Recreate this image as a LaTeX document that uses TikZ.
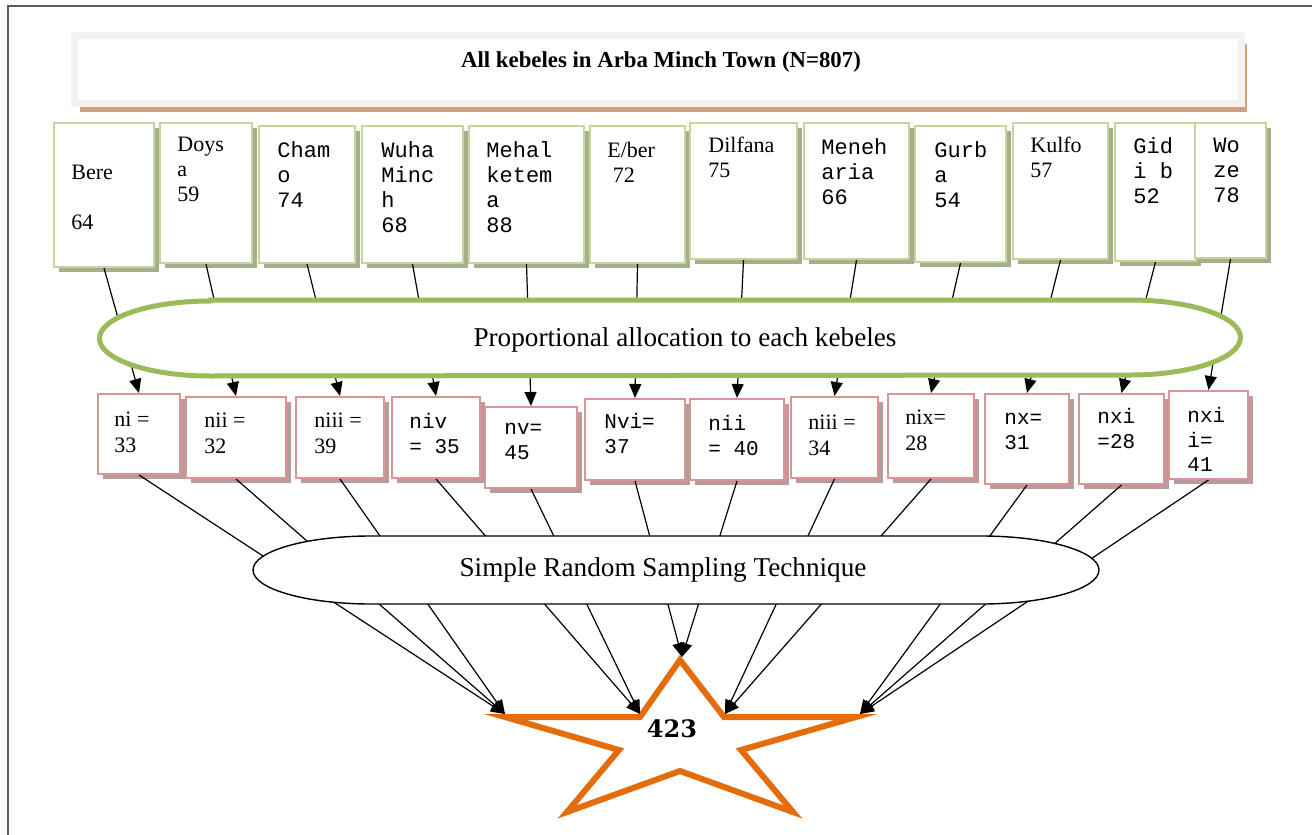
\documentclass[tikz,border=0pt]{standalone}
\usepackage{fontspec}
\setmainfont{Liberation Serif}
\setmonofont{Liberation Mono}
\newfontfamily\totalfont{DejaVu Serif}
\usetikzlibrary{arrows.meta, positioning, shadows}
\definecolor{kebeleGreen}{RGB}{195, 214, 155}
\definecolor{kebeleShade}{RGB}{166, 175, 140}
\definecolor{sampleRed}{RGB}{217, 149, 148}
\definecolor{sampleShade}{RGB}{185, 155, 155}
\definecolor{titleGray}{RGB}{242, 242, 242}
\definecolor{titleShade}{RGB}{210, 160, 125}
\definecolor{allocGreen}{RGB}{155, 187, 89}
\definecolor{totalOrange}{RGB}{228, 108, 10}
\colorlet{frame edge}{black!65}
\tikzset{
    titlebox/.style={draw=titleGray, line width=3.5pt, fill=white, drop shadow={shadow xshift=2.75pt, shadow yshift=-4.25pt, fill=titleShade, opacity=1}},
    titletext/.style={font=\fontsize{11.4}{13}\selectfont\bfseries},
    kebbox/.style={anchor=north west, draw=kebeleGreen, line width=1pt, fill=white, drop shadow={shadow xshift=2.5pt, shadow yshift=-2.5pt, fill=kebeleShade, opacity=1}},
    samplebox/.style={anchor=north west, draw=sampleRed, line width=1pt, fill=white, drop shadow={shadow xshift=2.5pt, shadow yshift=-2.5pt, fill=sampleShade, opacity=1}},
    boxtext/.style={anchor=north west, inner sep=0pt, align=left, font=\fontsize{11}{12.5}\selectfont},
    boxmono/.style={boxtext, font=\fontsize{11}{12.5}\selectfont\ttfamily},
    ntext/.style={boxtext, font=\fontsize{11}{13}\selectfont},
    nmono/.style={boxtext, font=\fontsize{10.5}{12.2}\selectfont\ttfamily},
    allocring/.style={draw=allocGreen, line width=2.5pt, fill=white},
    samplering/.style={draw=black, line width=0.7pt, fill=white},
    ringtext/.style={font=\fontsize{13.6}{16}\selectfont},
    arrowline/.style={line width=0.6pt, -{Triangle[length=7pt, width=6pt]}},
    starline/.style={draw=totalOrange, line width=3pt, fill=white, line join=miter},
    totaltext/.style={font=\fontsize{12}{14}\totalfont\bfseries},
    outerframe/.style={draw=frame edge, line width=1pt}
}

\begin{document}
\begin{tikzpicture}[x=0.5pt, y=-0.5pt]
    % Fix the size of the page
    \useasboundingbox (0,0) rectangle (1312,835);
    \draw[outerframe] (8,6) rectangle (1340,860);

    % Title box with all kebeles
    \node[titlebox, minimum width=583.5pt, minimum height=34pt] (town) at (658,69.5) {};
    \node[titletext] (townlabel) at (661,62) {All kebeles in Arba Minch Town (N=807)};

    % Kebele boxes
    \node[kebbox, minimum width=50pt, minimum height=72pt] (bere) at (53,122) {};
    \node[kebbox, minimum width=46pt, minimum height=70pt] (doysa) at (159,122) {};
    \node[kebbox, minimum width=48pt, minimum height=68.5pt] (chamo) at (258,125) {};
    \node[kebbox, minimum width=50.5pt, minimum height=68.5pt] (wuha) at (361,125) {};
    \node[kebbox, minimum width=57.5pt, minimum height=68.5pt] (mehal) at (468,125) {};
    \node[kebbox, minimum width=47.5pt, minimum height=68.5pt] (eber) at (589,125) {};
    \node[kebbox, minimum width=53.5pt, minimum height=68pt] (dilfana) at (689,122) {};
    \node[kebbox, minimum width=52.5pt, minimum height=68pt] (meneh) at (803,122) {};
    \node[kebbox, minimum width=45.5pt, minimum height=68pt] (gurba) at (914,125) {};
    \node[kebbox, minimum width=47.5pt, minimum height=68pt] (kulfo) at (1012,122) {};
    \node[kebbox, minimum width=40.5pt, minimum height=69pt] (gidib) at (1114,122) {};
    \node[kebbox, minimum width=35.5pt, minimum height=67.5pt] (woze) at (1194,122) {};

    \node[boxtext] (bereT) at (71,165) {Bere\\[12.5pt]64};
    \node[boxtext] (doysaT) at (177,137) {Doys\\a\\59};
    \node[boxmono] (chamoT) at (277,141) {Cham\\o\\74};
    \node[boxmono] (wuhaT) at (381,141) {Wuha\\Minc\\h\\68};
    \node[boxmono] (mehalT) at (486,141) {Mehal\\ketem\\a\\88};
    \node[boxtext] (eberT) at (607,142) {E/ber\\\ 72};
    \node[boxtext] (dilfanaT) at (708,137) {Dilfana\\75};
    \node[boxmono] (menehT) at (821,138) {Meneh\\aria\\66};
    \node[boxmono] (gurbaT) at (934,141) {Gurb\\a\\54};
    \node[boxtext] (kulfoT) at (1030,137) {Kulfo\\57};
    \node[boxmono] (gidibT) at (1133,137) {Gid\\i b\\52};
    \node[boxmono] (wozeT) at (1213,138) {Wo\\ze\\78};

    % Sample size boxes
    \node[samplebox, minimum width=41pt, minimum height=40pt] (ni) at (97,393) {};
    \node[samplebox, minimum width=50pt, minimum height=40.5pt] (nii) at (185,396) {};
    \node[samplebox, minimum width=44pt, minimum height=40.5pt] (niii) at (295,396) {};
    \node[samplebox, minimum width=44pt, minimum height=40.5pt] (niv) at (391,396) {};
    \node[samplebox, minimum width=46pt, minimum height=40.5pt] (nv) at (484,406) {};
    \node[samplebox, minimum width=50pt, minimum height=40.5pt] (nvi) at (584,398) {};
    \node[samplebox, minimum width=47pt, minimum height=40.5pt] (nvii) at (689,398) {};
    \node[samplebox, minimum width=43.5pt, minimum height=40.5pt] (nviii) at (790,396) {};
    \node[samplebox, minimum width=43pt, minimum height=42pt] (nix) at (887,393) {};
    \node[samplebox, minimum width=42pt, minimum height=45pt] (nx) at (984,393) {};
    \node[samplebox, minimum width=42.5pt, minimum height=45pt] (nxi) at (1078,393) {};
    \node[samplebox, minimum width=39.5pt, minimum height=44pt] (nxii) at (1168,390) {};

    \node[ntext] (niT) at (114,412) {ni =\\33};
    \node[ntext] (niiT) at (204,413) {nii =\\32};
    \node[ntext] (niiiT) at (314,413) {niii =\\39};
    \node[nmono] (nivT) at (409,413) {niv\\= 35};
    \node[nmono] (nvT) at (504,423) {nv=\\45};
    \node[nmono] (nviT) at (604,413) {Nvi=\\37};
    \node[nmono] (nviiT) at (708,415) {nii\\= 40};
    \node[ntext] (nviiiT) at (808,415) {niii =\\34};
    \node[ntext] (nixT) at (905,410) {nix=\\28};
    \node[nmono] (nxT) at (1004,413) {nx=\\31};
    \node[nmono] (nxiT) at (1097,408) {nxi\\=28};
    \node[nmono] (nxiiT) at (1187,407) {nxi\\i=\\41};

    % Draw the star for the total sample
    \draw[starline] (680,660) -- (724,717) -- (856,717) -- (741,750) -- (793,812) -- (680,771)
        -- (567,812) -- (619,750) -- (505,717) -- (640,717) -- cycle;
    \node[totaltext] (total) at (672,729) {423};
    \coordinate (tipL) at (505,714);
    \coordinate (tipIL) at (640,714);
    \coordinate (tipTop) at (682,657);
    \coordinate (tipIR) at (725,714);
    \coordinate (tipR) at (860,714);

    % Connect kebeles to their sample sizes
    \draw[arrowline] (bere.south) -- (ni.north);
    \draw[arrowline] (doysa.south) -- (nii.north);
    \draw[arrowline] (chamo.south) -- (niii.north);
    \draw[arrowline] (wuha.south) -- (niv.north);
    \draw[arrowline] (mehal.south) -- (nv.north);
    \draw[arrowline] (eber.south) -- (nvi.north);
    \draw[arrowline] (dilfana.south) -- (nvii.north);
    \draw[arrowline] (meneh.south) -- (nviii.north);
    \draw[arrowline] (gurba.south) -- (nix.north);
    \draw[arrowline] (kulfo.south) -- (nx.north);
    \draw[arrowline] (gidib.south) -- (nxi.north);
    \draw[arrowline] (woze.south) -- (nxii.north);

    % Connect sample sizes to the total
    \draw[arrowline] (ni.south) -- (tipL);
    \draw[arrowline] (nii.south) -- (tipL);
    \draw[arrowline] (niii.south) -- (tipL);
    \draw[arrowline] (niv.south) -- (tipIL);
    \draw[arrowline] (nv.south) -- (tipIL);
    \draw[arrowline] (nvi.south) -- (tipTop);
    \draw[arrowline] (nvii.south) -- (tipTop);
    \draw[arrowline] (nviii.south) -- (tipIR);
    \draw[arrowline] (nix.south) -- (tipIR);
    \draw[arrowline] (nx.south) -- (tipR);
    \draw[arrowline] (nxi.south) -- (tipR);
    \draw[arrowline] (nxii.south) -- (tipR);

    % Draw the two rings over the lines
    \draw[allocring] (210,300) -- (1130,300) arc[start angle=90, end angle=-90, x radius=55.25pt, y radius=18.75pt]
        -- (210,376) arc[start angle=270, end angle=90, x radius=55.25pt, y radius=18.75pt] -- cycle;
    \node[ringtext] (alloc) at (685,340) {Proportional allocation to each kebeles};
    \draw[samplering] (371,536) -- (981,536) arc[start angle=90, end angle=-90, x radius=59pt, y radius=17pt]
        -- (371,604) arc[start angle=270, end angle=90, x radius=59pt, y radius=17pt] -- cycle;
    \node[ringtext] (srs) at (663,570) {Simple Random Sampling Technique};
\end{tikzpicture}
\end{document}
